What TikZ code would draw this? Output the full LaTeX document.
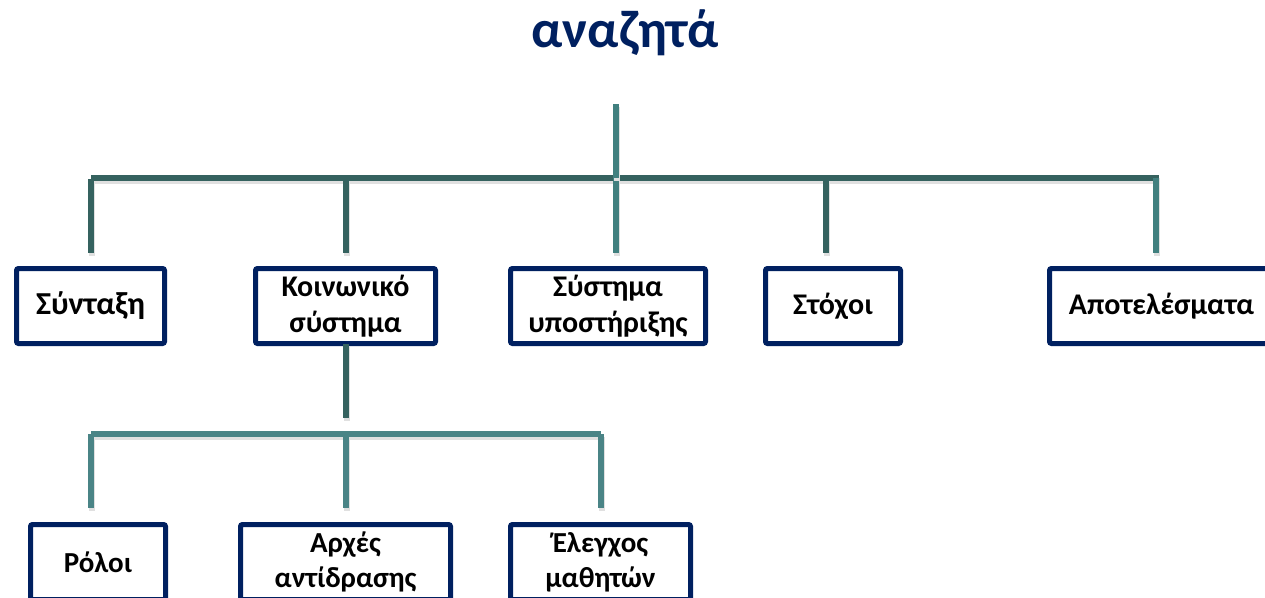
\documentclass[tikz,border=0pt]{standalone}
\usepackage{fontspec}
\setmainfont{Carlito}
\definecolor{navy}{HTML}{002060}
\definecolor{tealdark}{HTML}{35625F}
\definecolor{teallight}{HTML}{41807F}
\definecolor{tealrow}{HTML}{4A8486}
\begin{document}
\begin{tikzpicture}[x=1pt,y=-1pt,
  box/.style={draw=navy,line width=5pt,rounded corners=2pt,fill=white,
    align=center,inner sep=0pt,font=\bfseries\fontsize{30}{36}\selectfont,text=black},
  boxs/.style={box,font=\bfseries\fontsize{29}{35}\selectfont},
  conn/.style={line width=6pt,
    preaction={draw=black!12,line width=6pt,transform canvas={shift={(1pt,-3pt)}}}},
  gap/.style={shorten >=13pt}]
\useasboundingbox (0,0) rectangle (1265,597);
% title
\node[font=\bfseries\fontsize{53}{62}\selectfont,text=navy] (title) at (625,33) {αναζητά};
% top row boxes
\node[box,minimum width=148pt,minimum height=75pt,font=\bfseries\fontsize{32}{36}\selectfont] (syn) at (90.5,306) {Σύνταξη};
\node[box,minimum width=180pt,minimum height=75pt] (koin) at (345.5,306) {Κοινωνικό\\σύστημα};
\node[box,minimum width=195pt,minimum height=75pt] (sys) at (608,306) {Σύστημα\\υποστήριξης};
\node[box,minimum width=135pt,minimum height=75pt] (sto) at (833,306) {Στόχοι};
\node[box,minimum width=224pt,minimum height=75pt] (apo) at (1161.5,306) {Αποτελέσματα};
% bottom row boxes
\node[boxs,minimum width=135pt,minimum height=75pt] (rol) at (98,562) {Ρόλοι};
\node[boxs,minimum width=210pt,minimum height=75pt] (arx) at (345.5,562) {Αρχές\\αντίδρασης};
\node[boxs,minimum width=180pt,minimum height=75pt] (ele) at (600.5,562) {Έλεγχος\\μαθητών};
% top connectors
\coordinate (ttop) at (616,104);
\coordinate (tj) at (616,178);
\coordinate (tl) at (91,178);
\coordinate (tr) at (1159,178);
\coordinate (t1) at (91,179);
\coordinate (t2) at (346,178);
\coordinate (t3) at (616,178);
\coordinate (t4) at (826,178);
\coordinate (t5) at (1156,178);
\draw[conn,tealdark] (tl) -- (tr);
\draw[conn,tealdark,gap] (t1) -- (t1 |- syn.north);
\draw[conn,tealdark,gap] (t2) -- (t2 |- koin.north);
\draw[conn,teallight,gap] (t3) -- (t3 |- sys.north);
\draw[conn,tealdark,gap] (t4) -- (t4 |- sto.north);
\draw[conn,teallight,gap] (t5) -- (t5 |- apo.north);
\draw[conn,teallight] (ttop) -- (tj);
% second level connectors
\coordinate (b0) at (346,344);
\coordinate (bj) at (346,418);
\coordinate (bl) at (91,434);
\coordinate (br) at (601,434);
\coordinate (b1) at (91,434);
\coordinate (b2) at (346,434);
\coordinate (b3) at (601,434);
\draw[conn,tealdark] (b0) -- (bj);
\draw[conn,tealrow] (bl) -- (br);
\draw[conn,tealrow,shorten >=14pt] (b1) -- (b1 |- rol.north);
\draw[conn,tealrow,shorten >=14pt] (b2) -- (b2 |- arx.north);
\draw[conn,tealrow,shorten >=14pt] (b3) -- (b3 |- ele.north);
\end{tikzpicture}
\end{document}
